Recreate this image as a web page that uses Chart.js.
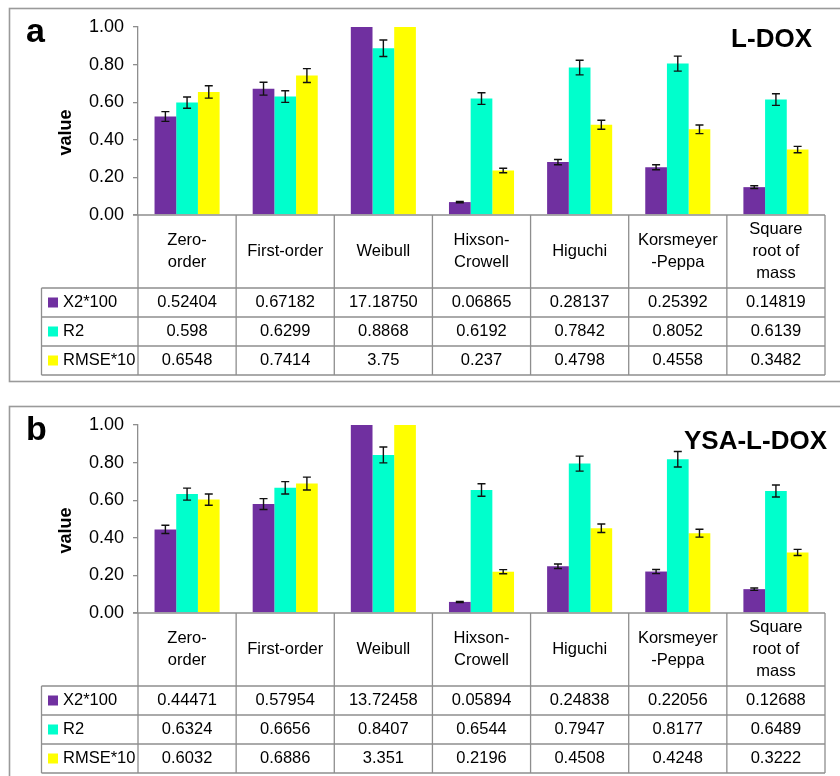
<!DOCTYPE html>
<html>
<head>
<meta charset="utf-8">
<script src="https://cdn.jsdelivr.net/npm/chart.js@4.4.1/dist/chart.umd.min.js"></script>
<style>
  html, body { margin: 0; padding: 0; background: #fff; overflow: hidden; }
  #wrap { position: relative; width: 840px; height: 776px; }
  canvas { position: absolute; left: 0; }
</style>
</head>
<body>
<div id="wrap">
  <canvas id="panelA" width="840" height="398" style="top:0"></canvas>
  <canvas id="panelB" width="840" height="398" style="top:398px"></canvas>
</div>
<script>
// Release-model names (column headers of the data table)
const models = [
  ['Zero-', 'order'],
  ['First-order'],
  ['Weibull'],
  ['Hixson-', 'Crowell'],
  ['Higuchi'],
  ['Korsmeyer', '-Peppa'],
  ['Square', 'root of', 'mass']
];

const seriesNames = ['X2*100', 'R2', 'RMSE*10'];
const seriesColors = ['#7030A0', '#00FFCC', '#FFFF00'];

// Axis ticks
const yTicks = [0, 0.2, 0.4, 0.6, 0.8, 1.0];

// L-DOX
const ldoxX2 = [0.52404, 0.67182, 17.18750, 0.06865, 0.28137, 0.25392, 0.14819];
const ldoxR2 = [0.598, 0.6299, 0.8868, 0.6192, 0.7842, 0.8052, 0.6139];
const ldoxRMSE = [0.6548, 0.7414, 3.75, 0.237, 0.4798, 0.4558, 0.3482];
const ldoxX2Err = [0.026, 0.034, 0.86, 0.0034, 0.014, 0.013, 0.0074];
const ldoxR2Err = [0.030, 0.031, 0.044, 0.031, 0.039, 0.040, 0.031];
const ldoxRMSEErr = [0.033, 0.037, 0.19, 0.012, 0.024, 0.023, 0.017];

// YSA-L-DOX
const ysaX2 = [0.44471, 0.57954, 13.72458, 0.05894, 0.24838, 0.22056, 0.12688];
const ysaR2 = [0.6324, 0.6656, 0.8407, 0.6544, 0.7947, 0.8177, 0.6489];
const ysaRMSE = [0.6032, 0.6886, 3.351, 0.2196, 0.4508, 0.4248, 0.3222];
const ysaX2Err = [0.022, 0.029, 0.69, 0.0029, 0.012, 0.011, 0.0063];
const ysaR2Err = [0.032, 0.033, 0.042, 0.033, 0.040, 0.041, 0.032];
const ysaRMSEErr = [0.030, 0.034, 0.17, 0.011, 0.023, 0.021, 0.016];

const FONT = '"Liberation Sans", Arial, Helvetica, sans-serif';
const LINE_GRAY = '#8e8e8e';

// Cell text for each series row of the table
const cellFormat = [v => v.toFixed(5), v => String(v), v => String(v)];

// Error bars (clipped to the plot area, like the bars)
const errorBars = {
  id: 'errorBars',
  afterDatasetsDraw(chart) {
    const { ctx, chartArea: ca, scales: { y } } = chart;
    ctx.save();
    ctx.beginPath();
    ctx.rect(ca.left, ca.top - 1, ca.right - ca.left, ca.bottom - ca.top + 2);
    ctx.clip();
    ctx.strokeStyle = '#111';
    ctx.lineWidth = 1.4;
    chart.data.datasets.forEach((ds, di) => {
      const meta = chart.getDatasetMeta(di);
      meta.data.forEach((bar, i) => {
        const v = ds.data[i], e = ds.errors[i];
        const yHi = y.getPixelForValue(v + e);
        const yLo = y.getPixelForValue(v - e);
        const cx = bar.x, cap = 4;
        ctx.beginPath();
        ctx.moveTo(cx, yHi); ctx.lineTo(cx, yLo);
        ctx.moveTo(cx - cap, yHi); ctx.lineTo(cx + cap, yHi);
        ctx.moveTo(cx - cap, yLo); ctx.lineTo(cx + cap, yLo);
        ctx.stroke();
      });
    });
    ctx.restore();
  }
};

// Data table under the x axis, aligned with the category columns
const dataTable = {
  id: 'dataTable',
  afterDraw(chart) {
    const { ctx, chartArea: ca } = chart;
    const labels = chart.data.labels;
    const n = labels.length;
    const colW = (ca.right - ca.left) / n;
    const top = ca.bottom;
    const headH = 73, rowH = 29;
    const legL = 41.5;
    const rowsTop = top + headH;
    const bottom = rowsTop + rowH * chart.data.datasets.length;

    ctx.save();
    ctx.strokeStyle = LINE_GRAY;
    ctx.lineWidth = 1.3;
    ctx.beginPath();
    // axis baseline
    ctx.moveTo(ca.left - 5, top); ctx.lineTo(ca.right, top);
    // column separators
    for (let i = 0; i <= n; i++) {
      const x = ca.left + i * colW;
      ctx.moveTo(x, top); ctx.lineTo(x, bottom);
    }
    // legend column outline
    ctx.moveTo(legL, rowsTop); ctx.lineTo(legL, bottom);
    for (let r = 0; r <= chart.data.datasets.length; r++) {
      const yy = rowsTop + r * rowH;
      ctx.moveTo(legL, yy); ctx.lineTo(ca.right, yy);
    }
    ctx.stroke();

    ctx.fillStyle = '#000';
    ctx.font = '16.5px ' + FONT;
    ctx.textAlign = 'center';
    ctx.textBaseline = 'middle';
    const lineH = 21.8;
    labels.forEach((lines, i) => {
      const cx = ca.left + (i + 0.5) * colW;
      const cy = top + headH / 2;
      lines.forEach((t, k) => {
        ctx.fillText(t, cx, cy + (k - (lines.length - 1) / 2) * lineH);
      });
    });

    chart.data.datasets.forEach((ds, r) => {
      const cy = rowsTop + (r + 0.5) * rowH;
      ctx.fillStyle = ds.backgroundColor;
      ctx.fillRect(legL + 6.5, cy - 5, 10, 10);
      ctx.fillStyle = '#000';
      ctx.textAlign = 'left';
      ctx.fillText(ds.label, legL + 21.5, cy);
      ctx.textAlign = 'center';
      ds.data.forEach((v, i) => {
        ctx.fillText(cellFormat[r](v), ca.left + (i + 0.5) * colW, cy);
      });
    });
    ctx.restore();
  }
};

// Panel frame, panel letter, sample name and y-axis title
const panelDecor = {
  id: 'panelDecor',
  afterDraw(chart, args, opts) {
    const { ctx } = chart;
    ctx.save();
    ctx.strokeStyle = '#9a9a9a';
    ctx.lineWidth = 1.6;
    ctx.strokeRect(9.5, 8.5, 850, 373);

    ctx.fillStyle = '#000';
    ctx.textBaseline = 'middle';
    ctx.textAlign = 'left';
    ctx.font = 'bold 34px ' + FONT;
    ctx.fillText(opts.letter, 26, opts.letterY);

    ctx.textAlign = 'right';
    ctx.font = 'bold 26px ' + FONT;
    ctx.fillText(opts.name, opts.nameRight, opts.nameY);

    ctx.translate(66.5, 132.5);
    ctx.rotate(-Math.PI / 2);
    ctx.textAlign = 'center';
    ctx.font = 'bold 18px ' + FONT;
    ctx.fillText('value', 0, 0);
    ctx.restore();
  }
};

function makePanel(id, values, errors, decor) {
  return new Chart(document.getElementById(id), {
    type: 'bar',
    data: {
      labels: models,
      datasets: seriesNames.map((name, k) => ({
        label: name,
        data: values[k],
        errors: errors[k],
        backgroundColor: seriesColors[k],
        borderWidth: 0,
        categoryPercentage: 0.663,
        barPercentage: 1.0
      }))
    },
    options: {
      responsive: false,
      animation: false,
      events: [],
      layout: { padding: { left: 40, right: 15, top: 27, bottom: 183 } },
      plugins: {
        legend: { display: false },
        tooltip: { enabled: false },
        panelDecor: decor
      },
      scales: {
        x: { display: false },
        y: {
          min: 0,
          max: 1,
          afterFit: s => { s.width = 98; },
          afterBuildTicks: s => { s.ticks = yTicks.map(v => ({ value: v })); },
          ticks: {
            padding: 9,
            color: '#000',
            font: { family: FONT, size: 18 },
            callback: v => Number(v).toFixed(2)
          },
          grid: {
            drawOnChartArea: false,
            drawTicks: true,
            tickLength: 5,
            color: LINE_GRAY,
            lineWidth: 1.3
          },
          border: { display: true, color: LINE_GRAY, width: 1.3 }
        }
      }
    },
    plugins: [errorBars, dataTable, panelDecor]
  });
}

makePanel('panelA', [ldoxX2, ldoxR2, ldoxRMSE], [ldoxX2Err, ldoxR2Err, ldoxRMSEErr],
  { letter: 'a', letterY: 33, name: 'L-DOX', nameRight: 812, nameY: 40 });
makePanel('panelB', [ysaX2, ysaR2, ysaRMSE], [ysaX2Err, ysaR2Err, ysaRMSEErr],
  { letter: 'b', letterY: 33, name: 'YSA-L-DOX', nameRight: 827, nameY: 44 });
</script>
</body>
</html>
